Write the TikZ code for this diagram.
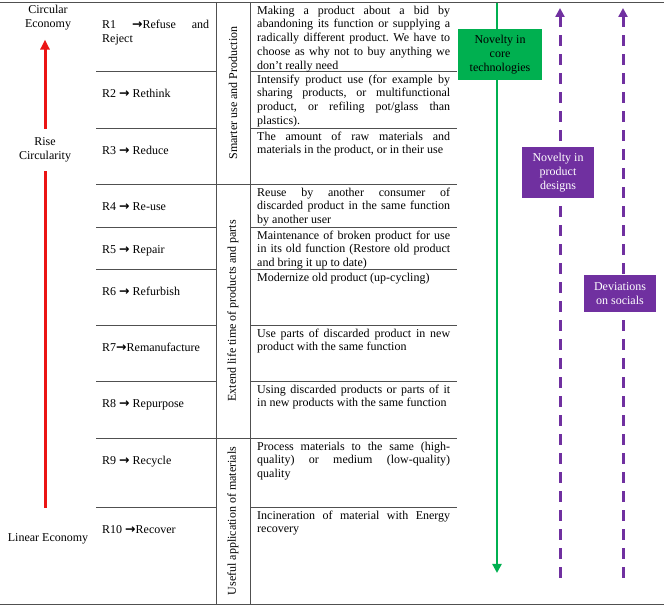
\documentclass[tikz,border=0pt]{standalone}
\usepackage{fontspec}
\setmainfont{Liberation Serif}
\newfontfamily\arrowfont{DejaVu Sans}
\usetikzlibrary{arrows.meta,positioning}
\definecolor{rulegray}{RGB}{80,80,80}
\definecolor{risered}{RGB}{235,20,20}
\definecolor{coregreen}{RGB}{0,176,80}
\definecolor{designpurple}{RGB}{112,48,160}
\newcommand{\Rto}{{\arrowfont\bfseries\fontsize{12.5}{13.8}\selectfont →}}
\newcommand{\jline}[2][193pt]{\makebox[#1][s]{\spaceskip=0.25em plus 1fil\relax#2}}
\setlength{\parindent}{0pt}
\hyphenpenalty=10000
\frenchspacing

\begin{document}
\begin{tikzpicture}[
        x=1pt, y=1pt,
        font=\fontsize{12}{13.8}\selectfont,
        rule/.style={draw=rulegray, line width=0.9pt},
        wordgap/.style={execute at begin node={\spaceskip=0.25em\relax}},
        rcell/.style={anchor=north west, inner sep=0pt, text width=112pt, wordgap},
        dcell/.style={anchor=north west, inner sep=0pt, text width=200pt, wordgap},
        group/.style={rotate=90, inner sep=0pt, wordgap},
        side/.style={align=center, inner sep=0pt, wordgap},
        risearrow/.style={draw=risered, line width=3pt},
        corearrow/.style={draw=coregreen, line width=2.5pt, -{Triangle[width=9pt,length=9pt]}},
        socialarrow/.style={draw=designpurple, line width=3pt, dash pattern=on 11pt off 8pt, -{Triangle[width=9pt,length=9pt]}},
        tag/.style={align=center, inner sep=0pt, font=\fontsize{12}{14}\selectfont, wordgap}]
        \useasboundingbox (0,0) rectangle (664,607);
        % TABLE RULES
        \draw[rule] (0,605) -- (664,605);
        \draw[rule] (0,3) -- (664,3);
        \draw[rule] (216,605) -- (216,3);
        \draw[rule] (250,605) -- (250,3);
        \draw[rule] (96,536) -- (216,536);
        \draw[rule] (250,536) -- (457,536);
        \draw[rule] (96,479) -- (216,479);
        \draw[rule] (250,479) -- (457,479);
        \draw[rule] (96,423) -- (457,423);
        \draw[rule] (96,380) -- (216,380);
        \draw[rule] (250,380) -- (457,380);
        \draw[rule] (96,338) -- (216,338);
        \draw[rule] (250,338) -- (457,338);
        \draw[rule] (96,282) -- (216,282);
        \draw[rule] (250,282) -- (457,282);
        \draw[rule] (96,226) -- (216,226);
        \draw[rule] (250,226) -- (457,226);
        \draw[rule] (96,169) -- (457,169);
        \draw[rule] (96,100) -- (216,100);
        \draw[rule] (250,100) -- (457,100);

        % NODES
        % left column
        \node[side] (CE) at (48,589) {Circular\\Economy};
        \node[side] (Rise) at (45,457) {Rise\\Circularity};
        \node[side] (LE) at (48,68) {Linear Economy};
        \coordinate (redlow) at (45,99);
        % R strategies
        \node[rcell] (R1) at (102,587) {\jline[107pt]{R1 \Rto Refuse and}\\Reject};
        \node[rcell] (R2) at (102,518) {R2 \Rto{} Rethink};
        \node[rcell] (R3) at (102,461) {R3 \Rto{} Reduce};
        \node[rcell] (R4) at (102,405) {R4 \Rto{} Re-use};
        \node[rcell] (R5) at (102,362) {R5 \Rto{} Repair};
        \node[rcell] (R6) at (102,320) {R6 \Rto{} Refurbish};
        \node[rcell] (R7) at (102,264) {R7\Rto Remanufacture};
        \node[rcell] (R8) at (102,208) {R8 \Rto{} Repurpose};
        \node[rcell] (R9) at (102,151) {R9 \Rto{} Recycle};
        \node[rcell] (R10) at (102,82) {R10 \Rto Recover};
        % groups
        \node[group] (smart) at (233,514) {Smarter use and Production};
        \node[group] (extend) at (233,296) {Extend life time of products and parts};
        \node[group] (useful) at (233,86) {Useful application of materials};
        % descriptions
        \node[dcell] (D1) at (257,601.5) {\jline{Making a product about a bid by}\\\jline{abandoning its function or supplying a}\\\jline{radically different product. We have to}\\\jline{choose as why not to buy anything we}\\don’t really need};
        \node[dcell] (D2) at (257,532.5) {\jline{Intensify product use (for example by}\\\jline{sharing products, or multifunctional}\\\jline{product, or refiling pot/glass than}\\plastics).};
        \node[dcell] (D3) at (257,475.5) {\jline{The amount of raw materials and}\\materials in the product, or in their use};
        \node[dcell] (D4) at (257,419.5) {\jline{Reuse by another consumer of}\\\jline{discarded product in the same function}\\by another user};
        \node[dcell] (D5) at (257,376.5) {\jline{Maintenance of broken product for use}\\\jline{in its old function (Restore old product}\\and bring it up to date)};
        \node[dcell] (D6) at (257,334.5) {Modernize old product (up-cycling)};
        \node[dcell] (D7) at (257,278.5) {\jline{Use parts of discarded product in new}\\product with the same function};
        \node[dcell] (D8) at (257,222.5) {\jline{Using discarded products or parts of it}\\in new products with the same function};
        \node[dcell] (D9) at (257,165.5) {\jline{Process materials to the same (high-}\\\jline{quality) or medium (low-quality)}\\quality};
        \node[dcell] (D10) at (257,96.5) {\jline{Incineration of material with Energy}\\recovery};
        % right side ends
        \coordinate (greentop) at (497,604);
        \coordinate (greenlow) at (497,34);
        \coordinate (designlow) at (560,29);
        \coordinate (designtop) at (560,599);
        \coordinate (sociallow) at (623,29);
        \coordinate (socialtop) at (623,599);

        % ARROWS
        \draw[risearrow, shorten >=9pt] (redlow) -- (Rise);
        \draw[risearrow, -{Triangle[width=9pt,length=10pt]}, shorten <=9pt, shorten >=9pt] (Rise) -- (Rise |- CE.south);
        \draw[corearrow] (greentop) -- (greenlow);
        \draw[socialarrow] (designlow) -- (designtop);
        \draw[socialarrow] (sociallow) -- (socialtop);

        % BOXES
        \node[tag, fill=coregreen, minimum width=84pt, minimum height=51pt] (core) at (500,552.5) {Novelty in\\core\\technologies};
        \node[tag, fill=designpurple, text=white, minimum width=72pt, minimum height=51pt] (design) at (558,434.5) {Novelty in\\product\\designs};
        \node[tag, fill=designpurple, text=white, minimum width=72pt, minimum height=37pt] (social) at (620,313.5) {Deviations\\on socials};
    \end{tikzpicture}
\end{document}
